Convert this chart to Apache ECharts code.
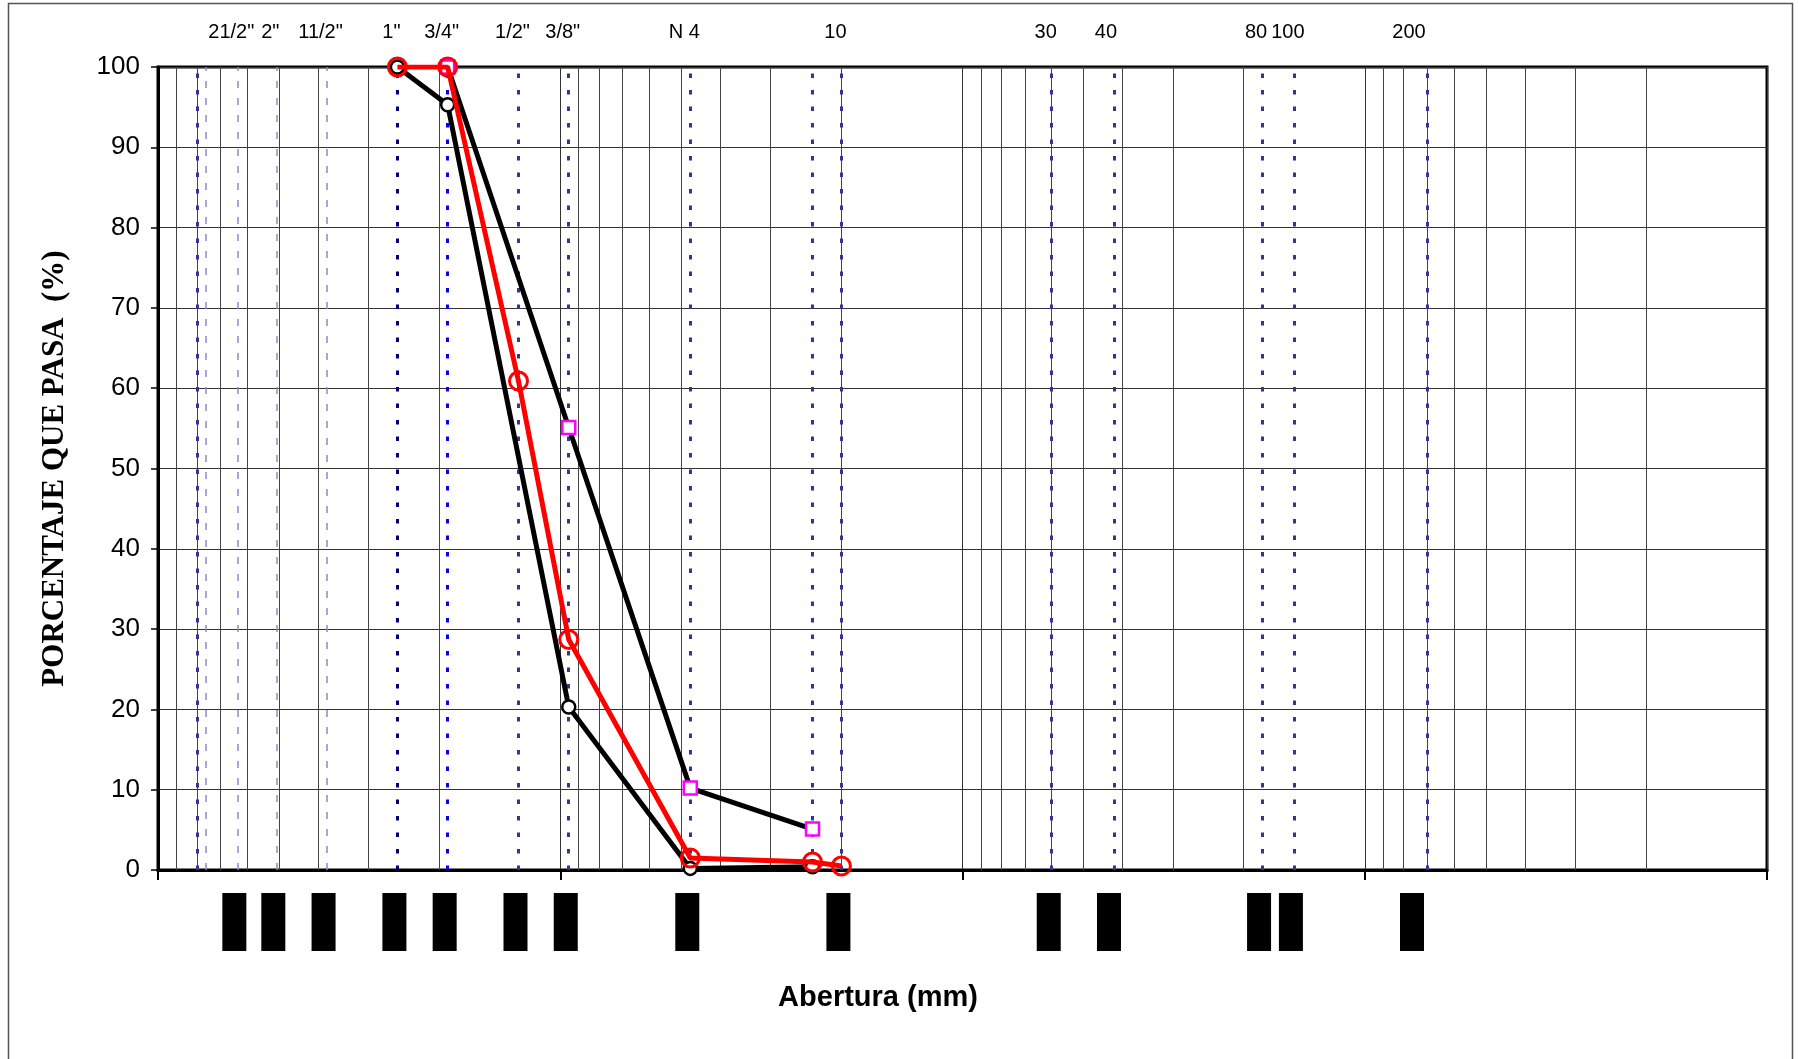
<!DOCTYPE html>
<html>
<head>
<meta charset="utf-8">
<script src="https://cdn.jsdelivr.net/npm/echarts@6/dist/echarts.min.js"></script>
<style>
html,body{margin:0;padding:0;background:#fff;}
#chart{width:1798px;height:1059px;}
</style>
</head>
<body>
<div id="chart"></div>
<script>
// ---- data (opening in mm, % passing) ----
const seriesA = [[25.4, 100], [19.05, 95.3], [9.525, 20.3], [4.75, 0.2], [2.36, 0.4]];
const seriesB = [[25.4, 100], [19.05, 100], [12.7, 60.9], [9.525, 28.7], [4.75, 1.5], [2.36, 1.0], [2.0, 0.5]];
const seriesC = [[19.05, 100], [9.525, 55.1], [4.75, 10.2], [2.36, 5.1]];

// sieve openings (mm) with top labels
const sieveMm     = [63.5, 50.8, 38.1, 25.4, 19.05, 12.7, 9.525, 4.75, 2.0, 0.6, 0.425, 0.18, 0.15, 0.075];
const sieveLabels = ['21/2"', '2"', '11/2"', '1"', '3/4"', '1/2"', '3/8"', 'N 4', '10', '30', '40', '80', '100', '200'];

// reference lines
const dottedSieveLines = [80, 25.4, 19.05, 12.7, 9.525, 4.75, 2.36, 2.0, 0.6, 0.425, 0.18, 0.15, 0.075];
const dashedInchLines  = [76.2, 63.5, 50.8, 38.1];

// y ticks
const yMin = 0, yMax = 100, yStep = 10;

// log minor grid (2..9 x 10^k)
const minorGrid = [];
for (let k = -2; k <= 1; k++) {
  for (let m = 2; m <= 9; m++) minorGrid.push(+(m * Math.pow(10, k)).toPrecision(3));
}

const chart = echarts.init(document.getElementById('chart'), null, {renderer: 'canvas'});

const dottedColor = function (v) {
  if (v === 25.4) return '#000080';
  if (v === 19.05) return '#0000ff';
  return '#333399';
};

const option = {
  animation: false,
  backgroundColor: '#ffffff',
  grid: {left: 158, right: 31, top: 67, bottom: 189, show: true, borderColor: '#000', borderWidth: 3, backgroundColor: 'transparent'},
  xAxis: {
    type: 'log', logBase: 10, min: 0.01, max: 100, inverse: true,
    axisLine: {show: true, onZero: false, lineStyle: {color: '#000', width: 3}},
    axisTick: {show: true, length: 10, lineStyle: {color: '#000', width: 2}},
    axisLabel: {show: false},
    splitLine: {show: true, lineStyle: {color: '#333', width: 1}},
    minorTick: {show: false}, minorSplitLine: {show: false}
  },
  yAxis: {
    type: 'value', min: yMin, max: yMax, interval: yStep,
    axisLine: {show: true, lineStyle: {color: '#000', width: 3}},
    axisTick: {show: true, length: 7, lineStyle: {color: '#000', width: 1.5}},
    axisLabel: {fontSize: 26, color: '#000', fontFamily: 'Liberation Sans', margin: 18},
    splitLine: {show: true, lineStyle: {color: '#333', width: 1}},
    name: 'PORCENTAJE QUE PASA  (%)', nameLocation: 'middle', nameRotate: 90, nameGap: 88,
    nameTextStyle: {fontFamily: 'Liberation Serif', fontWeight: 'bold', fontSize: 31, color: '#000'}
  },
  graphic: [
    {type: 'rect', silent: true, z: -10, shape: {x: 8.5, y: 3.5, width: 1784, height: 1100},
     style: {fill: 'none', stroke: '#555', lineWidth: 1.5}},
    {type: 'text', x: 878, y: 998, silent: true,
     style: {text: 'Abertura (mm)', font: 'bold 29px "Liberation Sans"', fill: '#000', align: 'center', verticalAlign: 'middle'}}
  ],
  series: [
    { // minor log grid
      type: 'line', data: [], silent: true, z: 1,
      markLine: {silent: true, symbol: ['none', 'none'], label: {show: false}, animation: false,
        lineStyle: {color: '#444', width: 1, type: 'solid'},
        emphasis: {disabled: true},
        data: minorGrid.map(v => ({xAxis: v}))}
    },
    { // dashed inch lines
      type: 'line', data: [], silent: true, z: 2,
      markLine: {silent: true, symbol: ['none', 'none'], label: {show: false}, animation: false,
        lineStyle: {color: '#8c8cc8', width: 1.5, type: [7, 10]},
        emphasis: {disabled: true},
        data: dashedInchLines.map(v => ({xAxis: v}))}
    },
    { // dotted sieve lines
      type: 'line', data: [], silent: true, z: 3,
      markLine: {silent: true, symbol: ['none', 'none'], label: {show: false}, animation: false,
        emphasis: {disabled: true},
        data: dottedSieveLines.map(v => ({xAxis: v, lineStyle: {color: dottedColor(v), width: 3, type: [4.5, 12]}}))}
    },
    { // top sieve labels
      type: 'custom', silent: true, z: 4, clip: false,
      data: sieveMm.map((v, i) => [v, yMax, i]),
      renderItem: function (params, api) {
        const p = api.coord([api.value(0), api.value(1)]);
        return {type: 'text', x: p[0] - 6, y: p[1] - 35,
          style: {text: sieveLabels[api.value(2)], fill: '#000', font: '20px "Liberation Sans"', align: 'center', verticalAlign: 'middle'}};
      }
    },
    { // black boxes below axis (unreadable opening labels)
      type: 'custom', silent: true, z: 4, clip: false,
      data: sieveMm.map(v => [v, yMin]),
      renderItem: function (params, api) {
        const p = api.coord([api.value(0), api.value(1)]);
        return {type: 'rect', shape: {x: p[0] - 15, y: p[1] + 23, width: 24, height: 58}, style: {fill: '#000'}};
      }
    },
    {
      name: 'C', type: 'line', data: seriesC, z: 10, silent: true,
      symbol: 'rect', symbolSize: 13, showAllSymbol: true,
      lineStyle: {color: '#000', width: 5},
      itemStyle: {color: '#fff', borderColor: '#ff00ff', borderWidth: 2.5}
    },
    {
      name: 'A', type: 'line', data: seriesA, z: 11, silent: true,
      symbol: 'circle', symbolSize: 13, showAllSymbol: true,
      lineStyle: {color: '#000', width: 5},
      itemStyle: {color: '#fff', borderColor: '#000', borderWidth: 2.5}
    },
    {
      name: 'B', type: 'line', data: seriesB, z: 12, silent: true,
      symbol: 'circle', symbolSize: 18, showAllSymbol: true,
      lineStyle: {color: '#ff0000', width: 5},
      itemStyle: {color: 'transparent', borderColor: '#ff0000', borderWidth: 3}
    }
  ]
};
chart.setOption(option);
</script>
</body>
</html>
